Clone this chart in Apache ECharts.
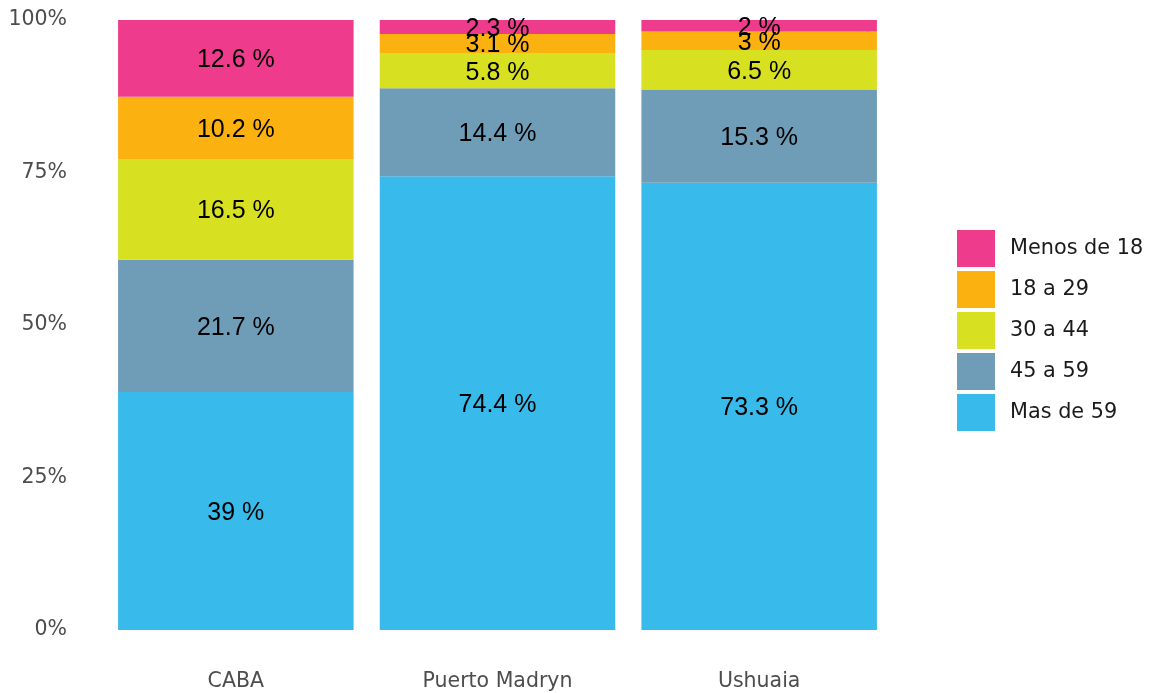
<!DOCTYPE html>
<html>
<head>
<meta charset="utf-8">
<script src="https://cdn.jsdelivr.net/npm/echarts@6/dist/echarts.min.js"></script>
<style>
  html, body { margin: 0; padding: 0; background: #fff; }
  #chart { width: 1151px; height: 693px; }
</style>
</head>
<body>
<div id="chart"></div>
<script>
// datos
var ciudades = ["CABA", "Puerto Madryn", "Ushuaia"];
var grupos = ["Mas de 59", "45 a 59", "30 a 44", "18 a 29", "Menos de 18"];
var colores = ["#38BAEB", "#6F9DB8", "#D7E021", "#FBB10F", "#EE3B8C"];
var masDe59 = [39, 74.4, 73.3];
var de45a59 = [21.7, 14.4, 15.3];
var de30a44 = [16.5, 5.8, 6.5];
var de18a29 = [10.2, 3.1, 3];
var menosDe18 = [12.6, 2.3, 2];
var yTicks = [0, 25, 50, 75, 100];

var valores = [masDe59, de45a59, de30a44, de18a29, menosDe18];

var chart = echarts.init(document.getElementById("chart"));

var series = grupos.map(function (g, i) {
  return {
    name: g,
    type: "bar",
    stack: "total",
    barWidth: "90%",
    data: valores[i],
    itemStyle: { color: colores[i] },
    label: {
      show: true,
      position: "inside",
      offset: [0, 2],
      color: "#000",
      fontFamily: "Liberation Sans",
      fontSize: 25,
      formatter: function (p) { return p.value + " %"; }
    }
  };
});

chart.setOption({
  animation: false,
  grid: { left: 105, right: 261, top: 20, bottom: 63 },
  legend: {
    orient: "vertical",
    left: 957,
    top: 230,
    padding: 0,
    itemWidth: 38,
    itemHeight: 37,
    itemGap: 4,
    icon: "rect",
    data: grupos.slice().reverse(),
    textStyle: {
      fontFamily: "DejaVu Sans",
      fontSize: 20.8,
      color: "#1a1a1a",
      padding: [0, 0, 0, 10]
    }
  },
  xAxis: {
    type: "category",
    data: ciudades,
    axisLine: { show: false },
    axisTick: { show: false },
    axisLabel: {
      margin: 41,
      fontFamily: "DejaVu Sans",
      fontSize: 20.5,
      color: "#4d4d4d"
    }
  },
  yAxis: {
    type: "value",
    min: yTicks[0],
    max: yTicks[yTicks.length - 1],
    interval: 25,
    splitLine: { show: false },
    axisLine: { show: false },
    axisTick: { show: false },
    axisLabel: {
      margin: 38,
      fontFamily: "DejaVu Sans",
      fontSize: 20.5,
      color: "#4d4d4d",
      formatter: "{value}%"
    }
  },
  series: series
});
</script>
</body>
</html>
